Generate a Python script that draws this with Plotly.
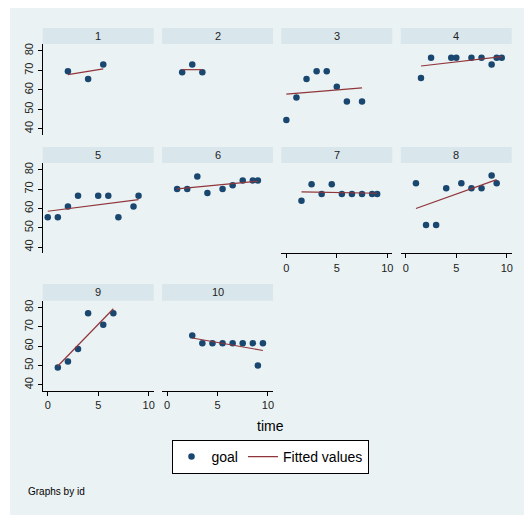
import numpy as np
import plotly.graph_objects as go

# page body has an 8px margin: figure sits at screen (8, 8)
OFF = 8
W, H = 532 - OFF, 517 - OFF

panel_ids = ["1", "2", "3", "4", "5", "6", "7", "8", "9", "10"]
time_vals = [
    [2, 4, 5.5],
    [1.5, 2.5, 3.5],
    [0, 1, 2, 3, 4, 5, 6, 7.5],
    [1.5, 2.5, 4.5, 5, 6.5, 7.5, 8.5, 9, 9.5],
    [0, 1, 2, 3, 5, 6, 7, 8.5, 9],
    [1, 2, 3, 4, 5.5, 6.5, 7.5, 8.5, 9],
    [1.5, 2.5, 3.5, 4.5, 5.5, 6.5, 7.5, 8.5, 9],
    [1, 2, 3, 4, 5.5, 6.5, 7.5, 8.5, 9],
    [1, 2, 3, 4, 5.5, 6.5],
    [2.5, 3.5, 4.5, 5.5, 6.5, 7.5, 8.5, 9, 9.5],
]
goal_vals = [
    [69.5, 65.5, 73],
    [69, 73, 69],
    [44.5, 56, 65.5, 69.5, 69.5, 61.5, 54, 54],
    [66, 76.5, 76.5, 76.5, 76.5, 76.5, 73, 76.5, 76.5],
    [55.5, 55.5, 61, 66.5, 66.5, 66.5, 55.5, 61, 66.5],
    [70, 70, 76.5, 68, 70, 72, 74.5, 74.5, 74.5],
    [64, 72.5, 67.5, 72.5, 67.5, 67.5, 67.5, 67.5, 67.5],
    [73, 51.5, 51.5, 70.5, 73, 70.5, 70.5, 77, 73],
    [49, 52, 58.5, 77, 71, 77],
    [65.5, 61.5, 61.5, 61.5, 61.5, 61.5, 61.5, 50, 61.5],
]
x_ticks = [0, 5, 10]
y_ticks = [40, 50, 60, 70, 80]

NAVY = "#1a476f"
MAROON = "#90353b"
BG = "#eaf2f3"
STRIP = "#d9e6eb"
FONT = "Liberation Sans, Arial, sans-serif"


def fx(px):
    return (px - OFF) / W


def fy(py):
    return 1 - (py - OFF) / H


col_x0 = [42.7, 162.0, 281.3, 400.8]
col_w = 111.0
rows = [(28, 44, 135), (147, 163, 253.3), (284, 300.7, 391)]  # strip top, plot top, plot bottom (screen px)

fig = go.Figure()
layout = {}
shapes = []
annotations = []

shapes.append(dict(type="rect", xref="paper", yref="paper", x0=fx(10), x1=1.01, y0=fy(515), y1=1.01,
                   fillcolor=BG, line=dict(width=0), layer="below"))

for i, pid in enumerate(panel_ids):
    r, c = divmod(i, 4)
    st, pt, pb = rows[r]
    x0 = col_x0[c]
    x1 = x0 + col_w
    n = i + 1
    xa = "x" if n == 1 else f"x{n}"
    ya = "y" if n == 1 else f"y{n}"
    xs = np.array(time_vals[i], float)
    ys = np.array(goal_vals[i], float)
    b, a = np.polyfit(xs, ys, 1)
    xf = np.array([xs.min(), xs.max()])
    fig.add_trace(go.Scatter(x=xs, y=ys, mode="markers", xaxis=xa, yaxis=ya,
                             marker=dict(color=NAVY, size=6.5, line=dict(width=0)),
                             name="goal", legendgroup="goal", showlegend=(i == 0)))
    fig.add_trace(go.Scatter(x=xf, y=a + b * xf, mode="lines", xaxis=xa, yaxis=ya,
                             line=dict(color=MAROON, width=1.2),
                             name="Fitted values", legendgroup="fit", showlegend=(i == 0)))
    show_x = i in (6, 7, 8, 9)
    show_y = c == 0
    layout["xaxis" if n == 1 else f"xaxis{n}"] = dict(
        domain=[fx(x0), fx(x1)], anchor=ya, range=[-0.5, 10.5],
        tickvals=x_ticks, showgrid=False, zeroline=False,
        showline=show_x, linecolor="#000000", linewidth=1,
        ticks="outside" if show_x else "", ticklen=4, tickcolor="#000000",
        showticklabels=show_x, tickfont=dict(size=11, color="#222222", family=FONT))
    layout["yaxis" if n == 1 else f"yaxis{n}"] = dict(
        domain=[fy(pb), fy(pt)], anchor=xa, range=[36.8, 83.5],
        tickvals=y_ticks, showgrid=True, gridcolor=BG, gridwidth=1, zeroline=False,
        showline=show_y, linecolor="#000000", linewidth=1,
        ticks="outside" if show_y else "", ticklen=4, tickcolor="#000000",
        showticklabels=show_y, tickangle=-90, tickfont=dict(size=11, color="#222222", family=FONT))
    shapes.append(dict(type="rect", xref="paper", yref="paper", x0=fx(x0), x1=fx(x1),
                       y0=fy(pt), y1=fy(st), fillcolor=STRIP, line=dict(width=0)))
    annotations.append(dict(text=pid, xref="paper", yref="paper", x=fx((x0 + x1) / 2),
                            y=fy((st + pt) / 2), showarrow=False, xanchor="center", yanchor="middle",
                            font=dict(size=11, color="#222222", family=FONT)))

annotations.append(dict(text="time", xref="paper", yref="paper", x=fx(270), y=fy(426),
                        showarrow=False, xanchor="center", yanchor="middle",
                        font=dict(size=14, color="#000000", family=FONT)))
annotations.append(dict(text="Graphs by id", xref="paper", yref="paper", x=fx(26), y=fy(491),
                        showarrow=False, xanchor="left", yanchor="middle",
                        font=dict(size=10, color="#000000", family=FONT)))

fig.update_layout(
    width=W, height=H, margin=dict(l=0, r=0, t=0, b=0),
    paper_bgcolor="white", plot_bgcolor="white",
    shapes=shapes, annotations=annotations,
    legend=dict(orientation="h", x=fx(270), y=fy(457), xanchor="center", yanchor="middle",
                bgcolor="white", bordercolor="#000000", borderwidth=1,
                font=dict(size=14, color="#000000", family=FONT), itemwidth=30),
    **layout,
)

fig.write_html("out.html")
